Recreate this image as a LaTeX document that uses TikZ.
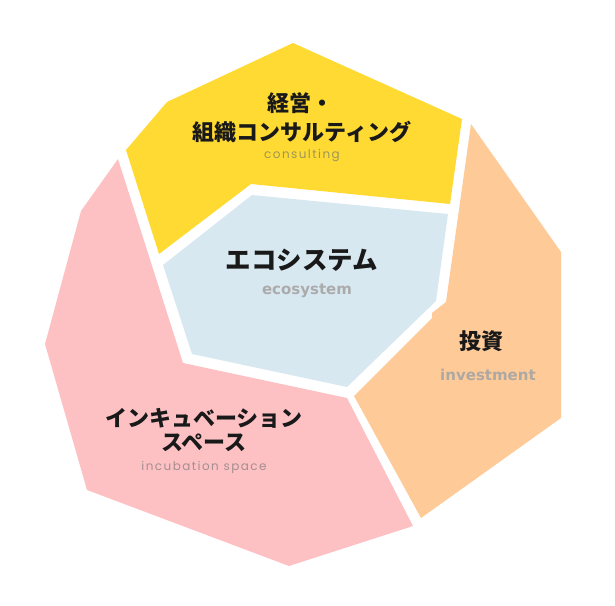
\documentclass[tikz,border=0pt]{standalone}
\usepackage{fontspec}
\newfontfamily\jp{Noto Sans CJK JP}
\newfontfamily\enl{Poppins}[LetterSpace=12]
\newfontfamily\enb{DejaVu Sans Bold}
\definecolor{cYel}{HTML}{FFDA33}
\definecolor{cBlu}{HTML}{D8E8F1}
\definecolor{cPnk}{HTML}{FDC1C3}
\definecolor{cOrg}{HTML}{FECA98}
\definecolor{tYel}{HTML}{9C955A}
\definecolor{tBlu}{HTML}{ABABAB}
\definecolor{tOrg}{HTML}{AEA8A2}
\definecolor{tPnk}{HTML}{A58E90}
\tikzset{
  jptxt/.style={font=\jp\bfseries\fontsize{22}{27}\selectfont, text=black!90, align=center, inner sep=0pt},
  entxt/.style={font=\enl\fontsize{12}{14}\selectfont, inner sep=0pt},
  enbtxt/.style={font=\enb\fontsize{15}{16}\selectfont, inner sep=0pt},
}
\begin{document}
\begin{tikzpicture}[x=1pt,y=-1pt]
\useasboundingbox (0,0) rectangle (615,605);
% yellow
\fill[cYel] (293,43) -- (462,119) -- (450,204) -- (251,184) -- (159,254) -- (126,150) -- (167,102) -- cycle;
% blue
\fill[cBlu] (163,265) -- (252,195) -- (448,214) -- (436,301) -- (347,387) -- (192,354) -- cycle;
% pink
\fill[cPnk] (118,159) -- (183,363) -- (347,398) -- (413,526) -- (289,566) -- (87,490) -- (45,344) -- (81,211) -- cycle;
% orange
\fill[cOrg] (471,124) -- (561,252) -- (561,418) -- (421,518) -- (354,396) -- (432,318) -- (432,313) -- (446,302) -- cycle;
% texts
\node[jptxt] (t1) at (300,103) {経営・};
\node[jptxt] (t2) at (302,132) {組織コンサルティング};
\node[entxt, text=tYel] (e1) at (302,156) {consulting};
\node[jptxt, font=\jp\bfseries\fontsize{25.5}{30}\selectfont] (t3) at (302,260) {エコシステム};
\node[enbtxt, text=tBlu] (e2) at (307,291) {ecosystem};
\node[jptxt] (t4) at (204,418) {インキュベーション};
\node[jptxt] (t5) at (204,443) {スペース};
\node[entxt, text=tPnk] (e3) at (204,467) {incubation space};
\node[jptxt] (t6) at (481,341) {投資};
\node[enbtxt, text=tOrg] (e4) at (488,375) {investment};
\end{tikzpicture}
\end{document}
